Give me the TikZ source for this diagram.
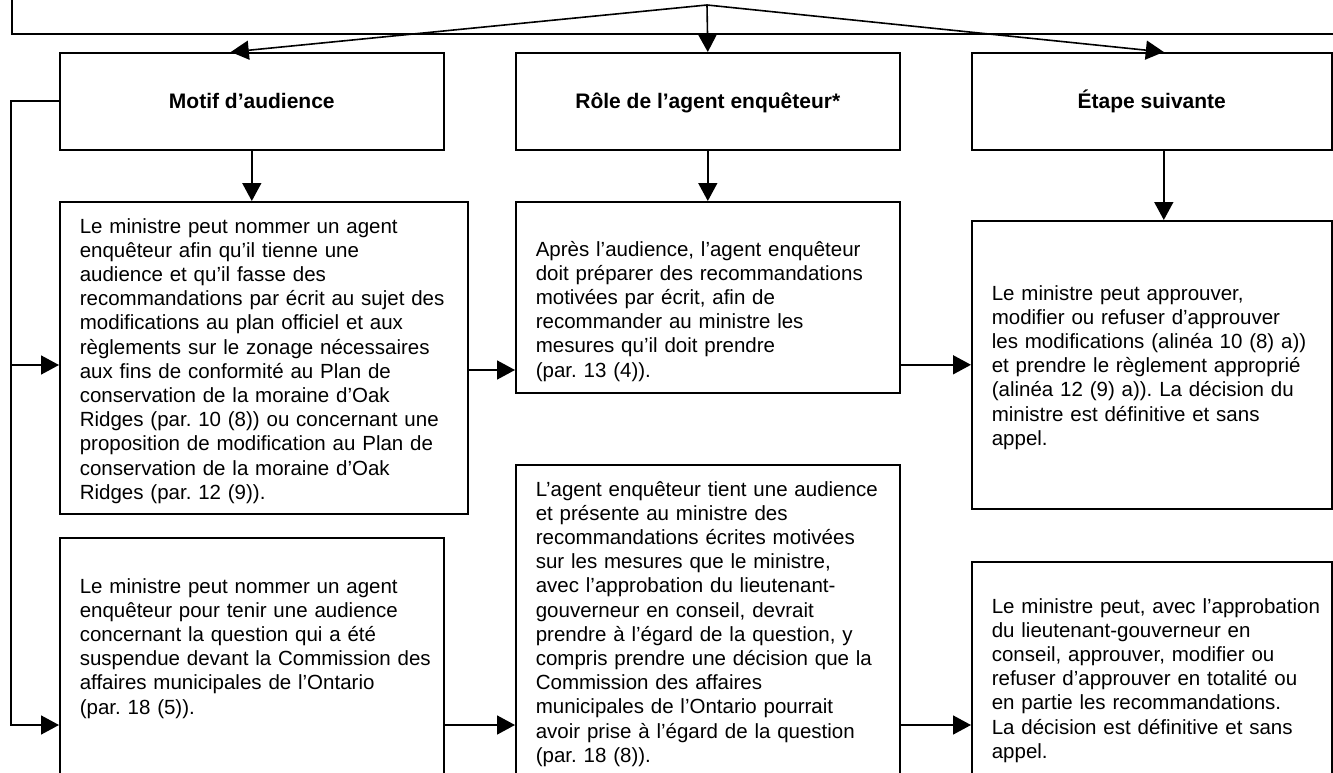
\documentclass[tikz,border=0pt]{standalone}
\usepackage{fontspec}
\setmainfont{Liberation Sans}
\usetikzlibrary{arrows.meta}
\frenchspacing

\begin{document}
\begin{tikzpicture}[x=1pt,y=-1pt,line width=1.6pt,
	box/.style={draw,rectangle,anchor=north west,inner sep=0pt},
	headbox/.style={box,minimum height=97pt,font=\fontsize{21}{24.2}\selectfont\bfseries,text height=17pt,text depth=2pt},
	bodytext/.style={anchor=base west,inner sep=0pt,align=left,text width=390pt,font=\fontsize{20.5}{24.2}\selectfont},
	arr/.style={-{Triangle[length=18pt,width=19pt]}}]
	\path[use as bounding box,clip] (0,0) rectangle (1333,773);

	\node[box,minimum width=1400pt,minimum height=100pt] (top) at (11,-67) {};
	\coordinate (fork) at (707,5);

	\node[headbox,minimum width=384pt] (motif) at (59,52) {Motif d’audience};
	\node[headbox,minimum width=384pt] (role) at (515,52) {Rôle de l’agent enquêteur*};
	\node[headbox,minimum width=360pt] (etape) at (971,52) {Étape suivante};

	\node[box,minimum width=408pt,minimum height=312pt] (ltbox) at (59,201) {};
	\node[box,minimum width=384pt,minimum height=300pt] (lbbox) at (59,537) {};
	\node[box,minimum width=384pt,minimum height=191pt] (mtbox) at (515,201) {};
	\node[box,minimum width=384pt,minimum height=400pt] (mbbox) at (515,464) {};
	\node[box,minimum width=360pt,minimum height=288pt] (rtbox) at (971,220) {};
	\node[box,minimum width=360pt,minimum height=300pt] (rbbox) at (971,561) {};

	\node[bodytext] (lttext) at (79,233) {Le ministre peut nommer un agent\\
		enquêteur afin qu’il tienne une\\
		audience et qu’il fasse des\\
		recommandations par écrit au sujet des\\
		modifications au plan officiel et aux\\
		règlements sur le zonage nécessaires\\
		aux fins de conformité au Plan de\\
		conservation de la moraine d’Oak\\
		Ridges (par. 10 (8)) ou concernant une\\
		proposition de modification au Plan de\\
		conservation de la moraine d’Oak\\
		Ridges (par. 12 (9)).};
	\node[bodytext] (lbtext) at (79,593) {Le ministre peut nommer un agent\\
		enquêteur pour tenir une audience\\
		concernant la question qui a été\\
		suspendue devant la Commission des\\
		affaires municipales de l’Ontario\\
		(par. 18 (5)).};
	\node[bodytext] (mttext) at (535,256) {Après l’audience, l’agent enquêteur\\
		doit préparer des recommandations\\
		motivées par écrit, afin de\\
		recommander au ministre les\\
		mesures qu’il doit prendre\\
		(par. 13 (4)).};
	\node[bodytext] (mbtext) at (535,496) {L’agent enquêteur tient une audience\\
		et présente au ministre des\\
		recommandations écrites motivées\\
		sur les mesures que le ministre,\\
		avec l’approbation du lieutenant-\\
		gouverneur en conseil, devrait\\
		prendre à l’égard de la question, y\\
		compris prendre une décision que la\\
		Commission des affaires\\
		municipales de l’Ontario pourrait\\
		avoir prise à l’égard de la question\\
		(par. 18 (8)).};
	\node[bodytext] (rttext) at (991,300) {Le ministre peut approuver,\\
		modifier ou refuser d’approuver\\
		les modifications (alinéa 10 (8) a))\\
		et prendre le règlement approprié\\
		(alinéa 12 (9) a)). La décision du\\
		ministre est définitive et sans\\
		appel.};
	\node[bodytext] (rbtext) at (991,613) {Le ministre peut, avec l’approbation\\
		du lieutenant-gouverneur en\\
		conseil, approuver, modifier ou\\
		refuser d’approuver en totalité ou\\
		en partie les recommandations.\\
		La décision est définitive et sans\\
		appel.};

	% fork from the top box
	\draw[arr] (fork) -- ([xshift=-21pt]motif.north);
	\draw[arr] (fork) -- (role.north);
	\draw[arr] (fork) -- ([xshift=12pt]etape.north);

	\draw[arr] (motif.south) -- (motif.south |- ltbox.north);
	\draw[arr] (role.south) -- (mtbox.north);
	\draw[arr] ([xshift=12pt]etape.south) -- ([xshift=12pt]etape.south |- rtbox.north);

	% left line
	\coordinate (spine) at (11,725);
	\coordinate (branch) at (11,365);
	\draw[arr] (motif.west) -| (spine) -- (lbbox.west |- spine);
	\draw[arr] (branch) -- (ltbox.west |- branch);

	\coordinate (row) at (0,370);
	\draw[arr] (ltbox.east |- row) -- (mtbox.west |- row);
	\draw[arr] (mtbox.east |- rtbox.west) -- (rtbox.west);
	\draw[arr] (lbbox.east |- spine) -- (mbbox.west |- spine);
	\draw[arr] (mbbox.east |- spine) -- (rbbox.west |- spine);
\end{tikzpicture}
\end{document}
